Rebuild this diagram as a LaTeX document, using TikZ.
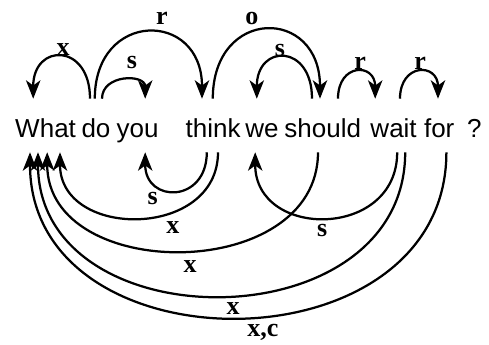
\documentclass[tikz,border=0pt]{standalone}
\usepackage{fontspec}
\setmainfont{Liberation Sans}
\newfontfamily\arclabelfont{Liberation Serif}
\usepackage{tikz}
\usetikzlibrary{arrows.meta}

\tikzset{
  word/.style={anchor=base, inner sep=0pt, text height=0.975cm, text depth=0.35cm, font=\fontsize{18.5}{22}\selectfont},
  dep/.style={line width=1.6pt, -{Stealth[length=0.46cm, width=0.36cm, inset=0.13cm]}},
  rel/.style={font=\arclabelfont\bfseries\fontsize{18.5}{22}\selectfont, inner sep=0pt},
}

\begin{document}
\begin{tikzpicture}
  \useasboundingbox (0,0) rectangle (12.225,8.625);
  \foreach \n/\t/\x in {what/What/1.14, do/do/2.40, you/you/3.44, think/think/5.33, we/we/6.55, should/should/8.07, wait/wait/9.84, for/for/10.98, qm/?/11.86}
    {\node[word] (\n) at (\x,5.175) {\t};}

  % arcs above the sentence
  \draw[dep] ([xshift=-0.15cm]do.north) .. controls +(0,1.4) and +(0,1.4) .. ([xshift=-0.31cm]what.north) node[rel, midway, xshift=0.04cm, yshift=0.18cm] {x};
  \draw[dep] ([xshift=-0.03cm]do.north) .. controls +(0,2.22) and +(0,2.22) .. ([xshift=-0.28cm]think.north) node[rel, midway, xshift=0.34cm, yshift=0.34cm] {r};
  \draw[dep] ([xshift=0.15cm]do.north) .. controls +(0,0.62) and +(0,0.62) .. ([xshift=0.19cm]you.north) node[rel, midway, xshift=0.21cm, yshift=0.45cm] {s};
  \draw[dep] ([xshift=-0.01cm]think.north) .. controls +(0,2.3) and +(0,2.3) .. ([xshift=-0.07cm]should.north) node[rel, midway, xshift=-0.36cm, yshift=0.29cm] {o};
  \draw[dep] ([xshift=-0.27cm]should.north) .. controls +(0,1.38) and +(0,1.38) .. ([xshift=-0.13cm]we.north) node[rel, midway, xshift=-0.11cm, yshift=0.18cm] {s};
  \draw[dep] ([xshift=0.38cm]should.north) .. controls +(0,0.9) and +(0,0.9) .. ([xshift=-0.46cm]wait.north) node[rel, midway, xshift=0.09cm, yshift=0.2cm] {r};
  \draw[dep] ([xshift=0.16cm]wait.north) .. controls +(0,0.9) and +(0,0.9) .. ([xshift=-0.03cm]for.north) node[rel, midway, xshift=0.03cm, yshift=0.2cm] {r};

  % arcs below the sentence
  \draw[dep] ([xshift=-0.16cm]think.south) .. controls +(0,-1.28) and +(0,-1.28) .. ([xshift=0.19cm]you.south) node[rel, midway, xshift=-0.58cm, yshift=-0.19cm] {s};
  \draw[dep] ([xshift=0.12cm]think.south) .. controls +(0,-2.18) and +(0,-2.18) .. ([xshift=0.36cm]what.south) node[rel, midway, xshift=0.85cm, yshift=-0.25cm] {x};
  \draw[dep] ([xshift=0.09cm]wait.south) .. controls +(0,-2.18) and +(0,-2.18) .. ([xshift=-0.17cm]we.south) node[rel, midway, xshift=-0.1cm, yshift=-0.33cm] {s};
  \draw[dep] ([xshift=-0.12cm]should.south) .. controls +(0,-3.28) and +(0,-3.28) .. ([xshift=0.04cm]what.south) node[rel, midway, xshift=0.19cm, yshift=-0.4cm] {x};
  \draw[dep] ([xshift=0.29cm]wait.south) .. controls +(0,-4.78) and +(0,-4.78) .. ([xshift=-0.19cm]what.south) node[rel, midway, xshift=0.29cm, yshift=-0.31cm] {x};
  \draw[dep] ([xshift=0.18cm]for.south) .. controls +(0,-5.5) and +(0,-5.5) .. ([xshift=-0.39cm]what.south) node[rel, midway, xshift=0.62cm, yshift=-0.38cm] {x,c};
\end{tikzpicture}
\end{document}
